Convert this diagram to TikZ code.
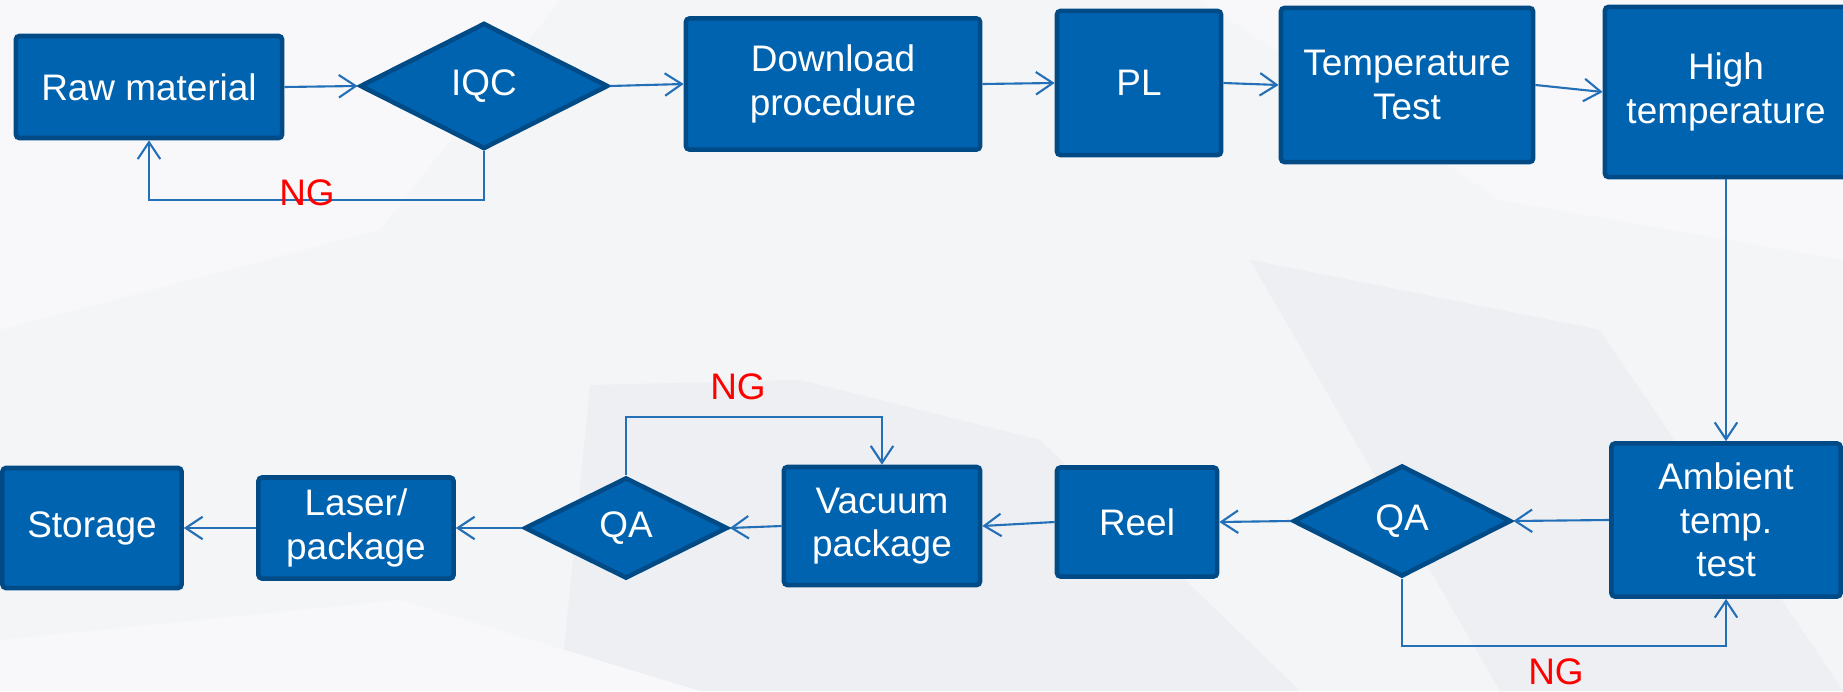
\documentclass[tikz,border=0pt]{standalone}
\usepackage{fontspec}
\setmainfont{Liberation Sans}
\usetikzlibrary{shapes.geometric,arrows.meta}
\definecolor{boxblue}{RGB}{0,99,176}
\definecolor{boxedge}{RGB}{0,74,134}
\definecolor{linkblue}{RGB}{36,112,184}
\definecolor{bgbase}{RGB}{244,245,247}
\definecolor{bgdark}{RGB}{238,239,242}
\definecolor{bglight}{RGB}{248,248,250}
\tikzset{
  procbox/.style={draw=boxedge, fill=boxblue, line width=1.3pt, rounded corners=1pt, text=white, align=center, inner sep=0pt, font=\fontsize{10.5}{12.4}\selectfont},
  checkbox/.style={procbox, shape=diamond, aspect=2, sharp corners},
  link/.style={draw=linkblue, line width=0.6pt, -{Straight Barb[length=4.8pt,width=6.4pt]}},
  nglabel/.style={text=red, inner sep=0pt, font=\fontsize{10.5}{12.4}\selectfont},
}
\begin{document}
\begin{tikzpicture}[x=0.01cm, y=-0.01cm]
\useasboundingbox (0,0) rectangle (1843,691);
% background facets
\fill[bgbase] (0,0) rectangle (1843,691);
\fill[bglight] (0,0) -- (560,0) -- (380,230) -- (0,330) -- cycle;
\fill[bglight] (1200,0) -- (1843,0) -- (1843,260) -- (1500,200) -- cycle;
\fill[bgdark] (590,385) -- (800,380) -- (1040,440) -- (1300,691) -- (560,691) -- cycle;
\fill[bgdark] (1250,260) -- (1600,330) -- (1843,691) -- (1500,691) -- cycle;
\fill[bglight] (0,640) -- (400,600) -- (700,691) -- (0,691) -- cycle;

% top row
\node[procbox, minimum width=2.66cm, minimum height=1.02cm] (raw) at (149,87) {Raw material};
\node[checkbox, minimum width=2.48cm, minimum height=1.26cm] (iqc) at (484,86) {IQC};
\node[procbox, minimum width=2.94cm, minimum height=1.31cm] (load) at (833,84) {Download\\procedure};
\node[procbox, minimum width=1.64cm, minimum height=1.44cm] (pl) at (1139,83) {PL};
\node[procbox, minimum width=2.52cm, minimum height=1.54cm] (temp) at (1407,85) {Temperature\\Test};
\node[procbox, minimum width=2.42cm, minimum height=1.70cm] (high) at (1726,92) {High\\temperature};

% bottom row
\node[procbox, minimum width=2.29cm, minimum height=1.53cm] (amb) at (1726,520) {Ambient\\temp.\\test};
\node[checkbox, minimum width=2.18cm, minimum height=1.11cm] (qaright) at (1402,521) {QA};
\node[procbox, minimum width=1.60cm, minimum height=1.09cm] (reel) at (1137,522) {Reel};
\node[procbox, minimum width=1.96cm, minimum height=1.18cm] (vac) at (882,526) {Vacuum\\package};
\node[checkbox, minimum width=2.03cm, minimum height=1.01cm] (qaleft) at (626,528) {QA};
\node[procbox, minimum width=1.95cm, minimum height=1.01cm] (laser) at (356,528) {Laser/\\package};
\node[procbox, minimum width=1.79cm, minimum height=1.20cm] (store) at (92,528) {Storage};

% flow
\draw[link] (raw.east) -- (iqc.west);
\draw[link] (iqc.east) -- (load.west);
\draw[link] (load.east) -- (pl.west);
\draw[link] (pl.east) -- (temp.west);
\draw[link] (temp.east) -- (high.west);
\draw[link] (high.south) -- (high.south |- amb.north);
\draw[link] (amb.west) -- (qaright.east);
\draw[link] (qaright.west) -- (reel.east);
\draw[link] (reel.west) -- (vac.east);
\draw[link] (vac.west) -- (qaleft.east);
\draw[link] (qaleft.west) -- (laser.east);
\draw[link] (laser.west) -- (store.east);

% rejects
\draw[link] (iqc.south) -- ++(0,49) -| (raw.south);
\draw[link] (qaleft.north) -- ++(0,-58) -| (vac.north);
\draw[link] (qaright.south) -- ++(0,67) -| (amb.south);
\node[nglabel] (ngtop) at (307,193) {NG};
\node[nglabel] (ngmid) at (738,387) {NG};
\node[nglabel] (ngbot) at (1556,672) {NG};
\end{tikzpicture}
\end{document}
